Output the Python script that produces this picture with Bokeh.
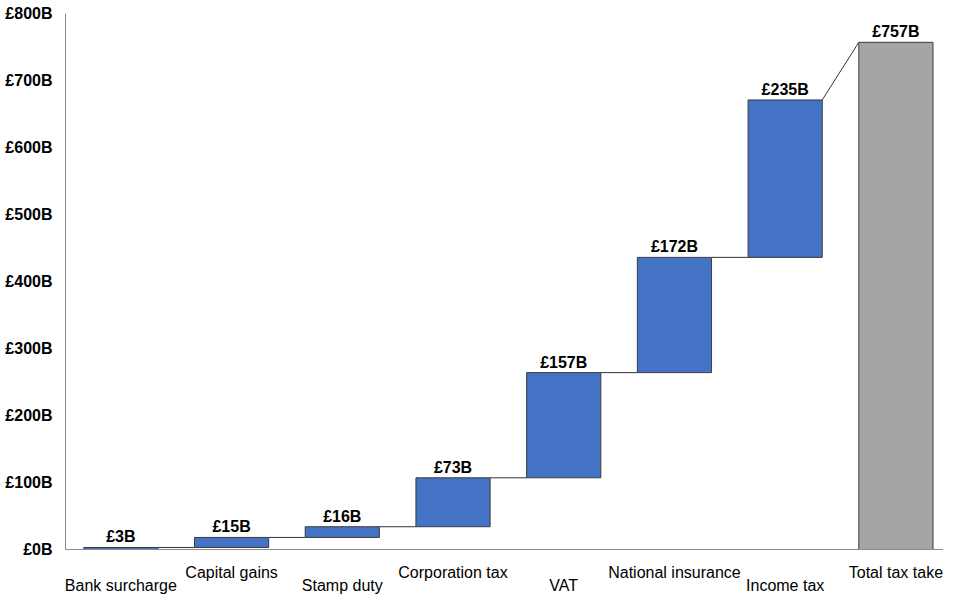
from bokeh.plotting import figure
from bokeh.models import LinearAxis, FixedTicker, PrintfTickFormatter, ColumnDataSource, Range1d
from bokeh.embed import file_html
from bokeh.resources import INLINE
from bokeh.core.properties import value

categories = ["Bank surcharge", "Capital gains", "Stamp duty", "Corporation tax",
              "VAT", "National insurance", "Income tax", "Total tax take"]
values = [3, 15, 16, 73, 157, 172, 235]
total = 757
value_labels = ["£3B", "£15B", "£16B", "£73B", "£157B", "£172B", "£235B", "£757B"]
y_ticks = [0, 100, 200, 300, 400, 500, 600, 700, 800]

BLUE = "#4472C4"
GREY = "#A5A5A5"
EDGE = "#3c3c3c"
AXIS = "#8a8a8a"
FONT = "Liberation Sans"
W = 0.67

bottoms, tops = [], []
c = 0
for v in values:
    bottoms.append(c)
    c += v
    tops.append(c)

xs = list(range(len(values)))
step_src = ColumnDataSource(dict(x=xs, bottom=bottoms, top=tops))
tot_src = ColumnDataSource(dict(x=[len(values)], bottom=[0], top=[total]))

x0s, y0s, x1s, y1s = [], [], [], []
for i in range(len(values)):
    x0s.append(i + W / 2)
    y0s.append(tops[i])
    x1s.append(i + 1 - W / 2)
    y1s.append(tops[i] if i < len(values) - 1 else total)

p = figure(width=943, height=596, output_backend="svg", toolbar_location=None,
           x_range=Range1d(-0.5, 7.43), y_range=Range1d(0, 800),
           min_border_left=65, min_border_right=0, min_border_top=13, min_border_bottom=0,
           x_axis_location=None, y_axis_location=None)
p.outline_line_color = None
p.xgrid.visible = False
p.ygrid.visible = False

p.segment(x0=x0s, y0=y0s, x1=x1s, y1=y1s, line_color="#333333", line_width=1)
p.vbar(x="x", bottom="bottom", top="top", width=W, source=step_src,
       fill_color=BLUE, line_color=EDGE, line_width=1)
p.vbar(x="x", bottom="bottom", top="top", width=W, source=tot_src,
       fill_color=GREY, line_color=EDGE, line_width=1)

label_x = list(range(len(categories)))
label_y = tops + [total]
p.text(x=label_x, y=label_y, text=value_labels, text_align="center", text_baseline="bottom",
       y_offset=-2, text_font=value(FONT), text_font_style="bold", text_font_size="16px",
       text_color="black")

yax = LinearAxis(ticker=FixedTicker(ticks=y_ticks),
                 formatter=PrintfTickFormatter(format="£%dB"))
yax.axis_line_color = AXIS
yax.major_tick_line_color = None
yax.minor_tick_line_color = None
yax.major_tick_out = 0
yax.minor_tick_out = 0
yax.major_label_standoff = 13
yax.major_label_text_font = FONT
yax.major_label_text_font_style = "bold"
yax.major_label_text_font_size = "16px"
yax.major_label_text_color = "black"
p.add_layout(yax, "left")

odd = [i for i in range(len(categories)) if i % 2 == 1]
even = [i for i in range(len(categories)) if i % 2 == 0]

ax1 = LinearAxis(ticker=FixedTicker(ticks=odd),
                 major_label_overrides={i: categories[i] for i in odd})
ax1.axis_line_color = AXIS
ax1.major_tick_line_color = None
ax1.minor_tick_line_color = None
ax1.major_tick_out = 0
ax1.minor_tick_out = 0
ax1.major_label_standoff = 14
ax1.major_label_text_font = FONT
ax1.major_label_text_font_size = "16px"
ax1.major_label_text_color = "black"
p.add_layout(ax1, "below")

ax2 = LinearAxis(ticker=FixedTicker(ticks=even),
                 major_label_overrides={i: categories[i] for i in even})
ax2.axis_line_color = None
ax2.major_tick_line_color = None
ax2.minor_tick_line_color = None
ax2.major_tick_out = 0
ax2.minor_tick_out = 0
ax2.major_label_standoff = -7
ax2.major_label_text_font = FONT
ax2.major_label_text_font_size = "16px"
ax2.major_label_text_color = "black"
p.add_layout(ax2, "below")

open("out.html", "w").write(file_html(p, INLINE))
